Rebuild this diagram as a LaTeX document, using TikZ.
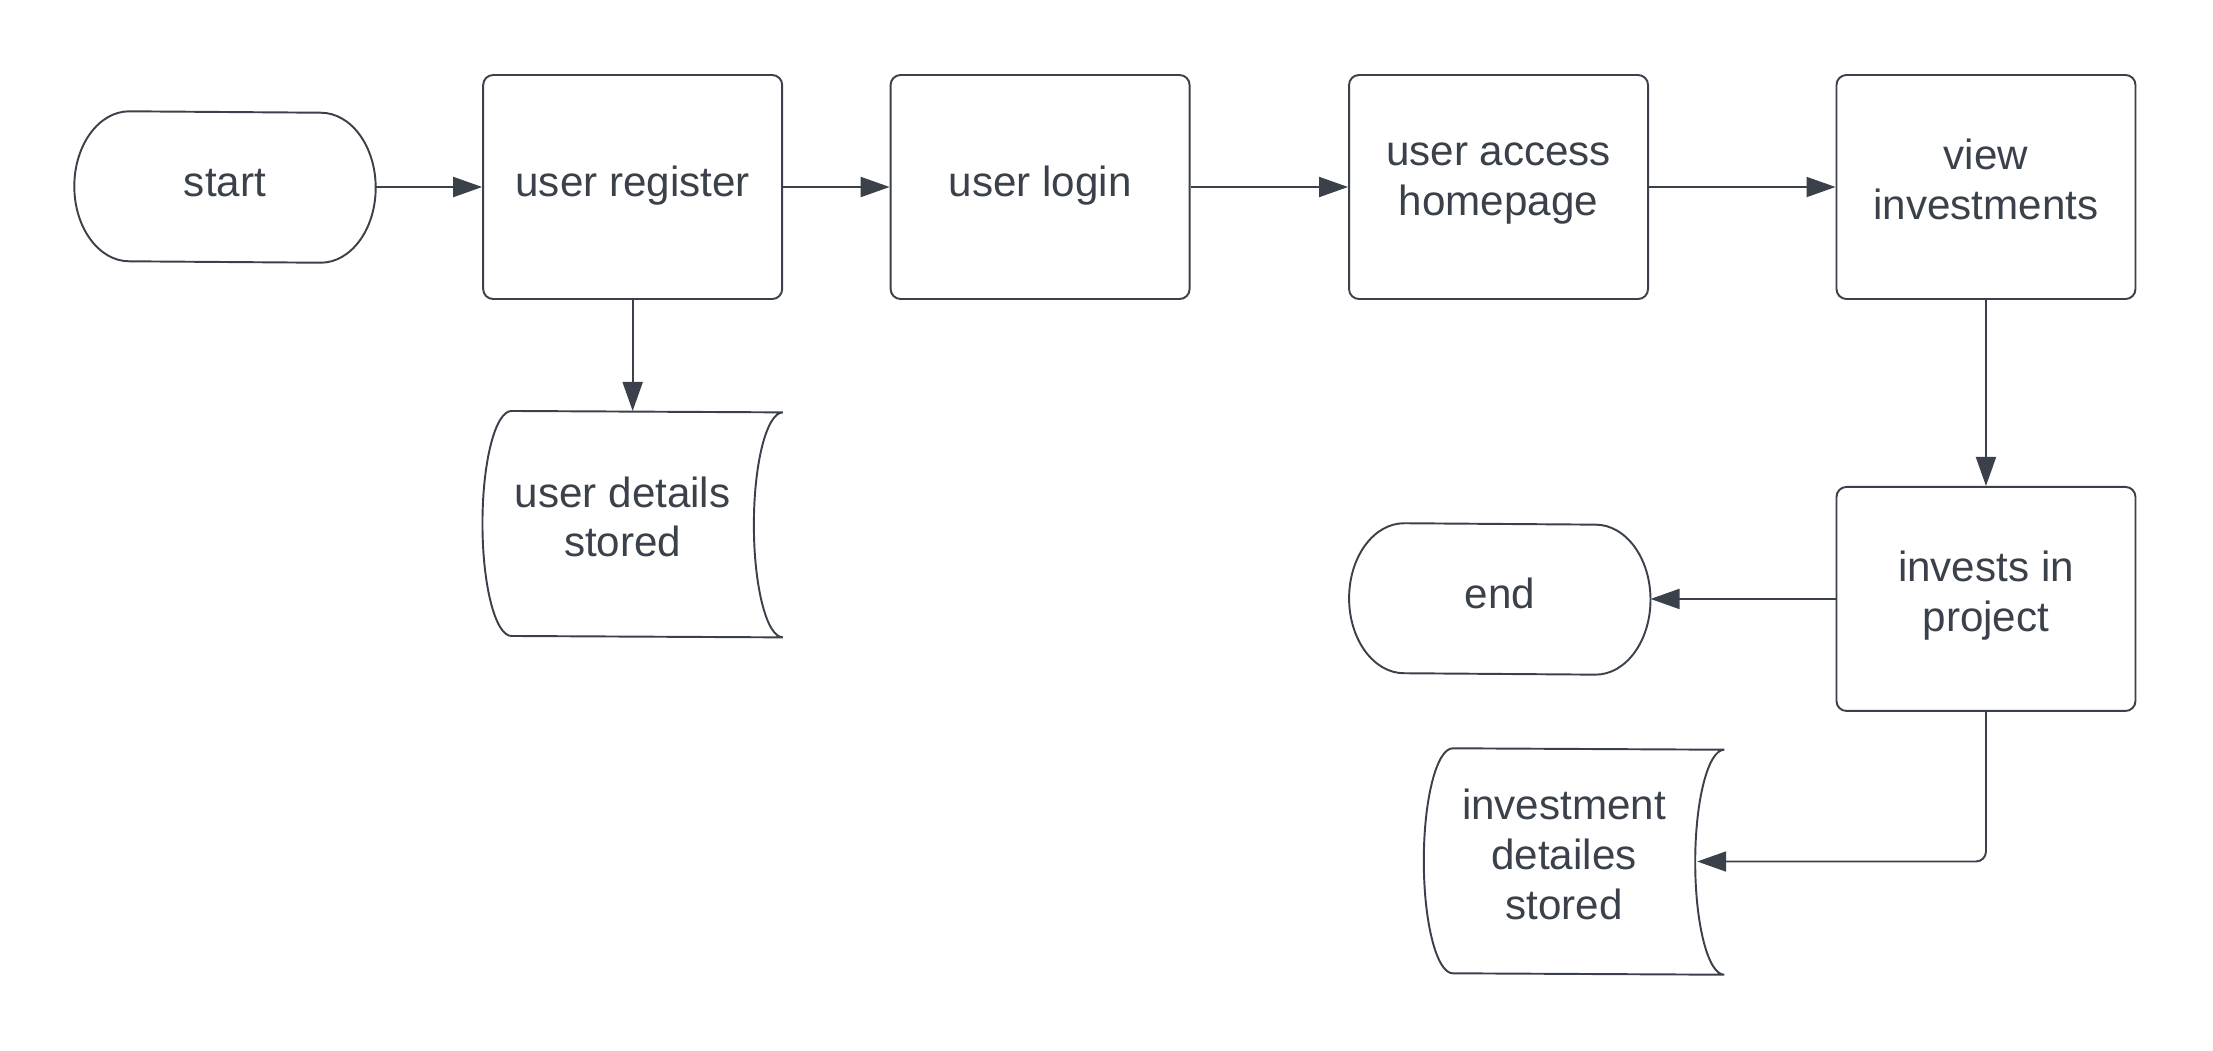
\documentclass[tikz,border=0pt]{standalone}
\usepackage{fontspec}
\setmainfont{Liberation Sans}
\usetikzlibrary{positioning,arrows.meta}
\definecolor{ink}{HTML}{3A414A}
\tikzset{
  txt/.style={text=ink,align=center,font=\fontsize{12pt}{14.2pt}\selectfont,
    execute at begin node=\strut,execute at end node=\strut},
  box/.style={txt,rectangle,rounded corners=1mm,draw=ink,line width=0.55pt,minimum width=2.99cm,minimum height=2.24cm},
  term/.style={txt,rectangle,minimum width=3cm,minimum height=1.5cm},
  store/.style={rectangle,minimum width=2.99cm,minimum height=2.25cm,inner sep=0pt},
  flow/.style={draw=ink,line width=0.55pt,-{Triangle[length=2.9mm,width=2mm]}},
}
% outline of a start / end terminal
\newcommand{\termshape}[1]{%
  \draw[ink,line width=0.55pt] ([xshift=5.5mm]#1.north west)
    arc[start angle=90,end angle=270,x radius=5.5mm,y radius=7.5mm]
    -- ([xshift=-5.5mm]#1.south east)
    arc[start angle=-90,end angle=90,x radius=5.5mm,y radius=7.5mm] -- cycle;}
% outline of a stored data shape
\newcommand{\storeshape}[1]{%
  \draw[ink,line width=0.55pt] ([xshift=2.9mm]#1.north west)
    arc[start angle=90,end angle=270,x radius=2.9mm,y radius=11.25mm]
    -- (#1.south east)
    arc[start angle=-90,end angle=-270,x radius=2.9mm,y radius=11.25mm] -- cycle;}
\begin{document}
\begin{tikzpicture}
\useasboundingbox (0,0) rectangle (22.13,-10.5);
\node at (2.25,-1.87) [term] (st) {start};
\node [box,right=1.065cm of st] (ur) {user register};
\node [box,right=1.065cm of ur] (ul) {user login};
\node [box,right=1.575cm of ul] (uh) {user access\\homepage};
\node [box,right=1.865cm of uh] (vi) {view\\investments};
\node [box,below=1.86cm of vi] (ip) {invests in\\project};
\node [term,left=1.85cm of ip] (en) {end};
\node [store,below=1.11cm of ur,label={[txt,xshift=-1mm]center:{user details\\stored}}] (uds) {};
\node at (15.74,-8.615) [store,label={[txt,xshift=-1mm]center:{investment\\detailes\\stored}}] (ids) {};
\termshape{st}
\termshape{en}
\storeshape{uds}
\storeshape{ids}
\draw [flow] (st.east) -- (ur.west);
\draw [flow] (ur.east) -- (ul.west);
\draw [flow] (ul.east) -- (uh.west);
\draw [flow] (uh.east) -- (vi.west);
\draw [flow] (ur.south) -- (uds.north);
\draw [flow] (vi.south) -- (ip.north);
\draw [flow] (ip.west) -- (en.east);
\draw [flow,rounded corners=1mm] (ip.south) |- ([xshift=-2.7mm]ids.east);
\end{tikzpicture}
\end{document}
